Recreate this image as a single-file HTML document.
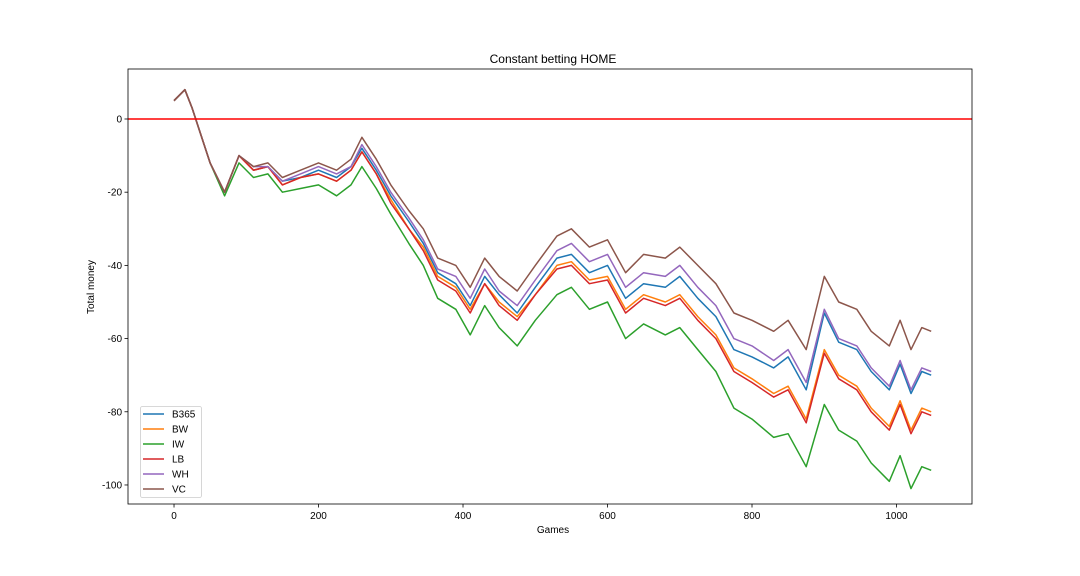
<!DOCTYPE html>
<html><head><meta charset="utf-8"><style>
html,body{margin:0;padding:0;background:#fff;}
svg{display:block;font-family:"Liberation Sans","DejaVu Sans",sans-serif;}
</style></head><body>
<svg id="chart" width="1080" height="576" viewBox="0 0 1080 576">
<text x="553" y="63" font-size="12" text-anchor="middle">Constant betting HOME</text>
<g id="plot"></g>
<text x="553" y="533" font-size="10" text-anchor="middle">Games</text>
<text transform="translate(94,287) rotate(-90)" font-size="10" text-anchor="middle">Total money</text>
</svg>
<script>
const games=[0,15,25,35,50,70,90,110,130,150,175,200,225,245,260,280,300,325,345,365,390,410,430,450,475,500,530,550,575,600,625,650,680,700,725,750,775,800,830,850,875,900,920,945,965,990,1005,1020,1035,1048];
const b365=[5,8,3,-3,-12,-20,-10,-14,-13,-17,-16,-14,-16,-13,-8,-14,-21,-28,-34,-42,-45,-51,-43,-48,-53,-46,-38,-37,-42,-40,-49,-45,-46,-43,-49,-54,-63,-65,-68,-65,-74,-53,-61,-63,-69,-74,-67,-75,-69,-70];
const bw=[5,8,3,-3,-12,-20,-10,-14,-13,-18,-16,-15,-17,-14,-9,-15,-22,-30,-35,-43,-46,-52,-45,-50,-54,-48,-40,-39,-44,-43,-52,-48,-50,-48,-54,-59,-68,-71,-75,-73,-82,-63,-70,-73,-79,-84,-77,-85,-79,-80];
const iw=[5,8,3,-3,-12,-21,-12,-16,-15,-20,-19,-18,-21,-18,-13,-19,-26,-34,-40,-49,-52,-59,-51,-57,-62,-55,-48,-46,-52,-50,-60,-56,-59,-57,-63,-69,-79,-82,-87,-86,-95,-78,-85,-88,-94,-99,-92,-101,-95,-96];
const lb=[5,8,3,-3,-12,-20,-10,-14,-13,-18,-16,-15,-17,-14,-9,-15,-23,-30,-36,-44,-47,-53,-45,-51,-55,-48,-41,-40,-45,-44,-53,-49,-51,-49,-55,-60,-69,-72,-76,-74,-83,-64,-71,-74,-80,-85,-78,-86,-80,-81];
const wh=[5,8,3,-3,-12,-20,-10,-13,-13,-17,-15,-13,-15,-13,-7,-13,-20,-27,-33,-41,-43,-49,-41,-47,-51,-44,-36,-34,-39,-37,-46,-42,-43,-40,-46,-51,-60,-62,-66,-63,-72,-52,-60,-62,-68,-73,-66,-74,-68,-69];
const vc=[5,8,3,-3,-12,-20,-10,-13,-12,-16,-14,-12,-14,-11,-5,-11,-18,-25,-30,-38,-40,-46,-38,-43,-47,-40,-32,-30,-35,-33,-42,-37,-38,-35,-40,-45,-53,-55,-58,-55,-63,-43,-50,-52,-58,-62,-55,-63,-57,-58];
const seriesNames=["B365","BW","IW","LB","WH","VC"];
const seriesColors=["#1f77b4","#ff7f0e","#2ca02c","#d62728","#9467bd","#8c564b"];
const xTicks=[0,200,400,600,800,1000];
const yTicks=[0,-20,-40,-60,-80,-100];
const allSeries=[b365,bw,iw,lb,wh,vc];

const L=128,R=972,T=69,B=504;
const xMin=-63.7,xMax=1104.5,yMin=-105.2,yMax=13.66;
const sx=v=>L+(v-xMin)/(xMax-xMin)*(R-L);
const sy=v=>B-(v-yMin)/(yMax-yMin)*(B-T);
const NS="http://www.w3.org/2000/svg";
const g=document.getElementById('plot');
function mk(t,a){const e=document.createElementNS(NS,t);for(const k in a)e.setAttribute(k,a[k]);return e;}

xTicks.forEach(v=>{
  const gt=mk('g',{});
  
  
  gt.appendChild(mk('line',{x1:sx(v),x2:sx(v),y1:B,y2:B+3.5,stroke:'#000','stroke-width':0.8}));
  const t=mk('text',{x:sx(v),y:B+15,'font-size':10,'text-anchor':'middle'});t.textContent=v;gt.appendChild(t);
  g.appendChild(gt);
});
yTicks.forEach(v=>{
  const gt=mk('g',{});
  
  
  gt.appendChild(mk('line',{x1:L-3.5,x2:L,y1:sy(v),y2:sy(v),stroke:'#000','stroke-width':0.8}));
  const t=mk('text',{x:L-6,y:sy(v)+3.5,'font-size':10,'text-anchor':'end'});t.textContent=v;gt.appendChild(t);
  g.appendChild(gt);
});

allSeries.forEach((s,i)=>{
  const d=s.map((v,j)=>(j?'L':'M')+sx(games[j]).toFixed(1)+' '+sy(v).toFixed(1)).join(' ');
  const p=mk('path',{d:d,fill:'none',stroke:seriesColors[i],'stroke-width':1.5,'stroke-linejoin':'round'});
  
  
  g.appendChild(p);
});

const h=mk('line',{x1:L,x2:R,y1:sy(0),y2:sy(0),stroke:'#ff0000','stroke-width':1.5});


g.appendChild(h);

const frame=mk('rect',{x:L,y:T,width:R-L,height:B-T,fill:'none',stroke:'#000','stroke-width':0.8});


g.appendChild(frame);

const lg=mk('g',{});


lg.appendChild(mk('rect',{x:140.5,y:406.5,width:61,height:91,rx:2,fill:'#fff','fill-opacity':0.8,stroke:'#ccc','stroke-width':0.8}));
seriesNames.forEach((n,i)=>{
  const e=mk('g',{});
  
  
  const y=414+i*15;
  e.appendChild(mk('line',{x1:143,x2:164,y1:y,y2:y,stroke:seriesColors[i],'stroke-width':1.5}));
  const t=mk('text',{x:172,y:y+3.5,'font-size':10});t.textContent=n;e.appendChild(t);
  lg.appendChild(e);
});
g.appendChild(lg);
</script>
</body></html>
